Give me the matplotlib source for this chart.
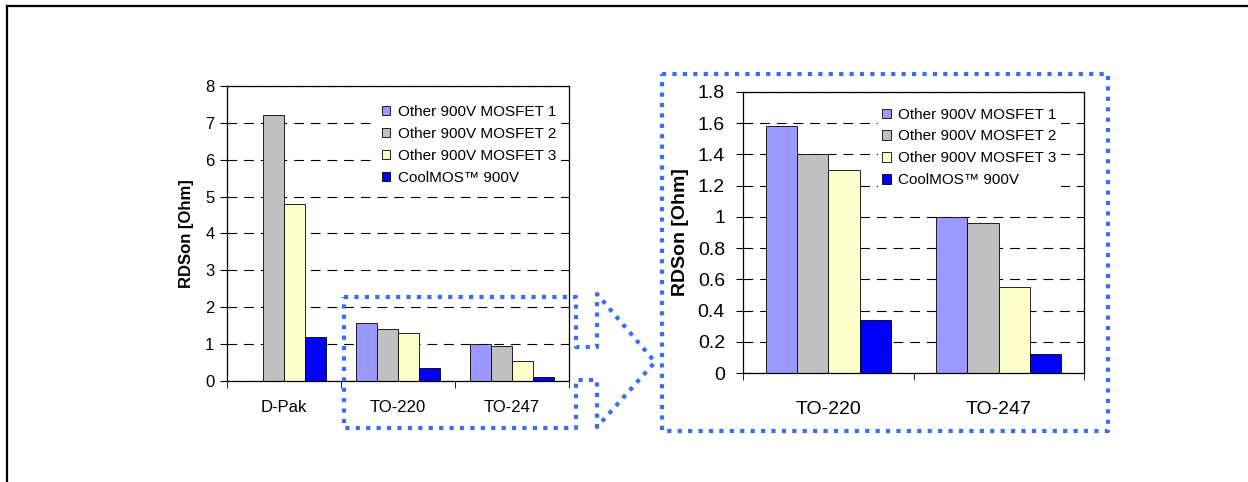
import numpy as np
import matplotlib
matplotlib.use("Agg")
import matplotlib.pyplot as plt
from matplotlib.lines import Line2D

plt.rcParams['font.family'] = ['Liberation Sans', 'DejaVu Sans']
plt.rcParams['lines.scale_dashes'] = False

# data
catsAll = ["D-Pak", "TO-220", "TO-247"]
mosfet1 = [np.nan, 1.58, 1.0]
mosfet2 = [7.2, 1.40, 0.96]
mosfet3 = [4.8, 1.30, 0.55]
coolmos = [1.2, 0.34, 0.12]

seriesNames = ["Other 900V MOSFET 1", "Other 900V MOSFET 2",
               "Other 900V MOSFET 3", "CoolMOS\u2122 900V"]
seriesColors = ["#9999ff", "#c0c0c0", "#ffffcc", "#0000ff"]

W, H = 1248, 482
DOT = "#3a6cf4"

fig = plt.figure(figsize=(W / 100, H / 100), dpi=100)


def axRect(x0, y0, x1, y1):
    # pixel box (top-left origin) -> figure fraction rect
    return [x0 / W, 1 - y1 / H, (x1 - x0) / W, (y1 - y0) / H]


def fx(x):
    return x / W


def fy(y):
    return 1 - y / H


def drawBars(ax, idx, ymax, step, legendPos, fs, xpad, ypad, lpad):
    bw = 0.184
    xs = np.arange(len(idx))
    allSeries = [mosfet1, mosfet2, mosfet3, coolmos]
    for k, s in enumerate(allSeries):
        vals = [s[i] for i in idx]
        ax.bar(xs + (k - 1.5) * bw, vals, bw, color=seriesColors[k],
               edgecolor="black", linewidth=0.6, label=seriesNames[k], zorder=2)
    ax.set_xlim(-0.5, len(idx) - 0.5)
    ax.set_ylim(0, ymax)
    ax.set_yticks(np.arange(0, ymax + step / 2, step))
    ax.set_yticklabels(["%g" % v for v in np.arange(0, ymax + step / 2, step)])
    ax.set_xticks(xs)
    ax.set_xticklabels([catsAll[i] for i in idx])
    ax.set_xticks(np.arange(-0.5, len(idx)), minor=True)
    ax.tick_params(axis="x", which="major", length=0, pad=xpad, labelsize=fs)
    ax.tick_params(axis="x", which="minor", length=5, direction="out")
    ax.tick_params(axis="y", length=5, direction="out", labelsize=fs, pad=ypad)
    ax.yaxis.grid(True, color="black", linestyle=(0, (7, 5)), linewidth=0.8)
    ax.set_axisbelow(True)
    for sp in ax.spines.values():
        sp.set_linewidth(0.9)
        sp.set_color("black")
    ax.set_ylabel("RDSon [Ohm]", fontsize=fs, fontweight="bold", labelpad=lpad)
    leg = ax.legend(loc="upper left", bbox_to_anchor=legendPos, frameon=True,
                    fancybox=False, fontsize=11, borderpad=0.3,
                    borderaxespad=0, handlelength=0.55, handleheight=0.55,
                    handletextpad=0.5, labelspacing=0.52)
    leg.get_frame().set_facecolor("white")
    leg.get_frame().set_edgecolor("none")
    leg.get_frame().set_alpha(1)
    leg.set_zorder(5)


ax1 = fig.add_axes(axRect(227, 86, 569, 381))
drawBars(ax1, [0, 1, 2], 8, 1, (0.44, 0.951), 12, 14, 4, 8)

ax2 = fig.add_axes(axRect(743, 92, 1084, 373))
drawBars(ax2, [1, 2], 1.8, 0.2, (0.395, 0.961), 14, 20, 8, 6)


def figLine(xs, ys, **kw):
    fig.add_artist(Line2D([fx(x) for x in xs], [fy(y) for y in ys],
                          transform=fig.transFigure, **kw))


# page border
figLine([7, W], [6, 6], color="black", linewidth=1.6)
figLine([7, 7], [6, H], color="black", linewidth=1.6)

dotStyle = dict(color=DOT, linewidth=3, linestyle=(0, (3, 4.5)),
                solid_capstyle="butt", dash_capstyle="butt")

# zoom box around the small TO-220 / TO-247 part, merged with the arrow
arrowX = [344, 576, 576, 597, 597, 655, 597, 597, 576, 576, 344, 344]
arrowY = [297, 297, 347, 347, 294, 362, 427, 380, 380, 428, 428, 297]
figLine(arrowX, arrowY, **dotStyle)

# box around the enlarged chart
figLine([662, 1108, 1108, 662, 662], [74, 74, 431, 431, 74], **dotStyle)

fig.savefig("out.png", dpi=100)
